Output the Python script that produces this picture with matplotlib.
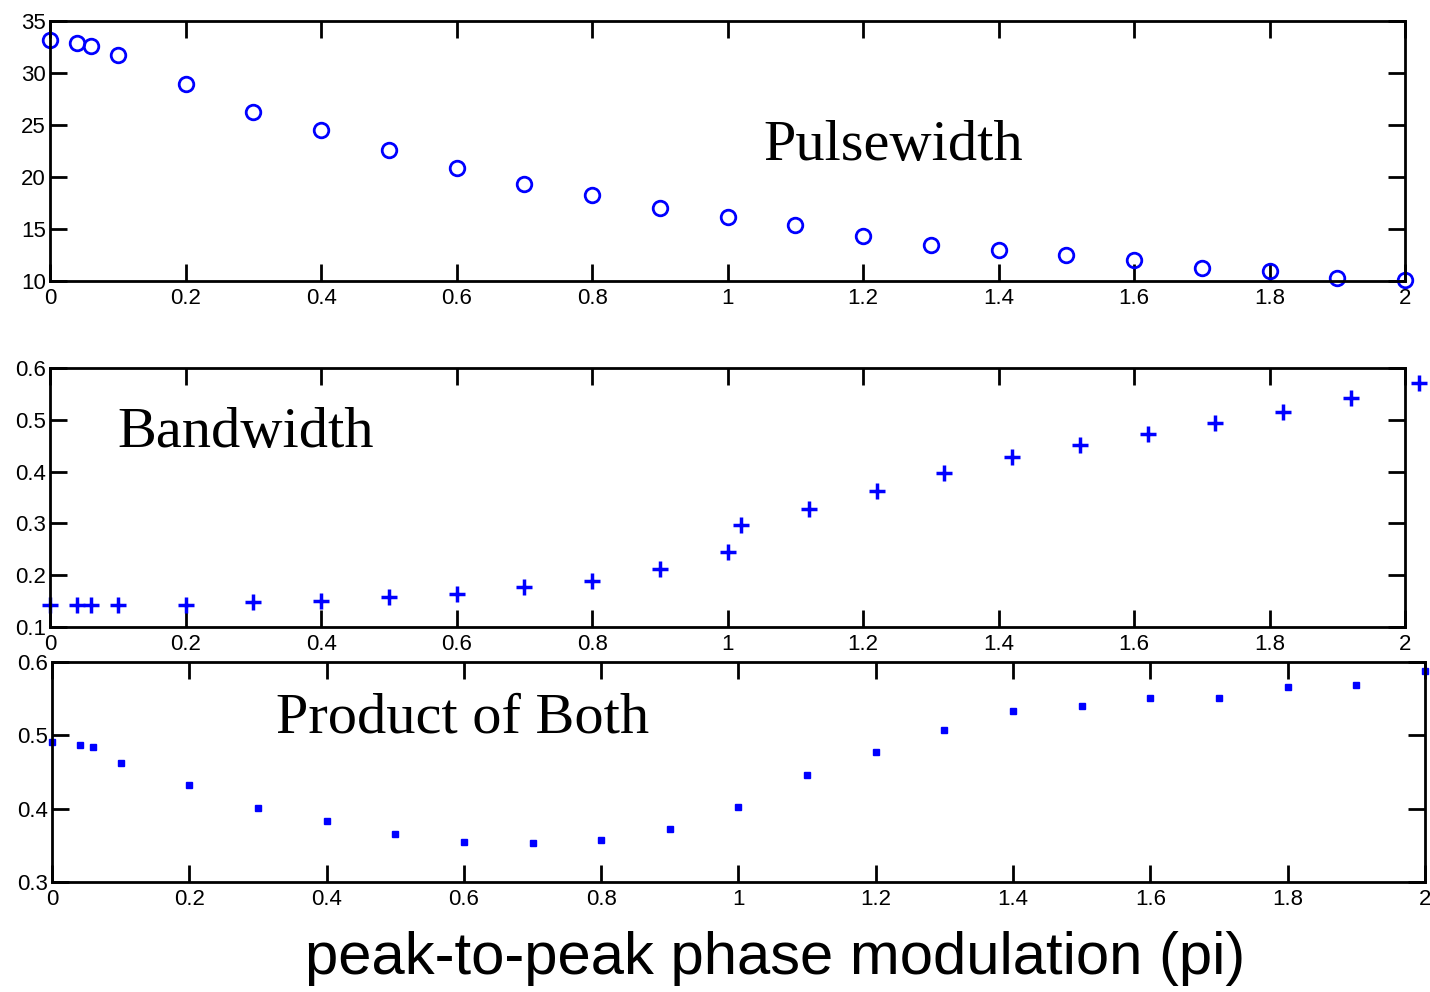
import matplotlib
matplotlib.use("Agg")
import matplotlib.pyplot as plt
from matplotlib.ticker import FixedLocator, FixedFormatter

# ---------------- data ----------------
x_pw = [0, 0.04, 0.06, 0.1, 0.2, 0.3, 0.4, 0.5, 0.6, 0.7, 0.8, 0.9, 1.0,
        1.1, 1.2, 1.3, 1.4, 1.5, 1.6, 1.7, 1.8, 1.9, 2.0]
pulsewidth = [33.2, 32.9, 32.6, 31.7, 29.0, 26.3, 24.5, 22.6, 20.9, 19.3,
              18.3, 17.0, 16.2, 15.4, 14.3, 13.5, 13.0, 12.5, 12.0, 11.3,
              11.0, 10.3, 10.1]

x_bw = [0, 0.04, 0.06, 0.1, 0.2, 0.3, 0.4, 0.5, 0.6, 0.7, 0.8, 0.9, 1.0,
        1.02, 1.12, 1.22, 1.32, 1.42, 1.52, 1.62, 1.72, 1.82, 1.92, 2.02]
bandwidth = [0.142, 0.142, 0.142, 0.142, 0.142, 0.148, 0.150, 0.158, 0.164,
             0.177, 0.189, 0.212, 0.245, 0.297, 0.328, 0.363, 0.397, 0.428,
             0.451, 0.473, 0.494, 0.515, 0.542, 0.571]

x_pr = [0, 0.04, 0.06, 0.1, 0.2, 0.3, 0.4, 0.5, 0.6, 0.7, 0.8, 0.9, 1.0,
        1.1, 1.2, 1.3, 1.4, 1.5, 1.6, 1.7, 1.8, 1.9, 2.0]
product = [0.491, 0.487, 0.484, 0.462, 0.432, 0.401, 0.383, 0.365, 0.355,
           0.353, 0.357, 0.372, 0.402, 0.446, 0.477, 0.507, 0.533, 0.540,
           0.551, 0.551, 0.566, 0.569, 0.588]

xticks = [0, 0.2, 0.4, 0.6, 0.8, 1.0, 1.2, 1.4, 1.6, 1.8, 2.0]
xticklabels = ["0", "0.2", "0.4", "0.6", "0.8", "1", "1.2", "1.4", "1.6", "1.8", "2"]
yticks_pw = [10, 15, 20, 25, 30, 35]
yticklabels_pw = ["10", "15", "20", "25", "30", "35"]
yticks_bw = [0.1, 0.2, 0.3, 0.4, 0.5, 0.6]
yticklabels_bw = ["0.1", "0.2", "0.3", "0.4", "0.5", "0.6"]
yticks_pr = [0.3, 0.4, 0.5, 0.6]
yticklabels_pr = ["0.3", "0.4", "0.5", "0.6"]

titles = ["Pulsewidth", "Bandwidth", "Product of Both"]
xlabel = "peak-to-peak phase modulation (pi)"

# ---------------- figure ----------------
fig = plt.figure(figsize=(14.3, 9.92), dpi=100)
fig.patch.set_facecolor("white")

blue = "#0000ff"


def style(ax, yt, ytl, ylim):
    ax.set_xlim(0, 2)
    ax.set_ylim(*ylim)
    ax.xaxis.set_major_locator(FixedLocator(xticks))
    ax.xaxis.set_major_formatter(FixedFormatter(xticklabels))
    ax.yaxis.set_major_locator(FixedLocator(yt))
    ax.yaxis.set_major_formatter(FixedFormatter(ytl))
    ax.tick_params(direction="in", length=12, width=2, top=True, right=True,
                   labelsize=16)
    ax.tick_params(axis="x", pad=5)
    ax.tick_params(axis="y", pad=3)
    for lab in ax.get_xticklabels() + ax.get_yticklabels():
        lab.set_family(["Liberation Sans", "DejaVu Sans"])
    for s in ax.spines.values():
        s.set_linewidth(2)


# Panel 1: Pulsewidth
ax1 = fig.add_axes([0.035, 0.7167, 0.9476, 0.262])
ax1.plot(x_pw, pulsewidth, linestyle="none", marker="o", markersize=10.5,
         markerfacecolor="none", markeredgecolor=blue, markeredgewidth=2,
         clip_on=False)
style(ax1, yticks_pw, yticklabels_pw, (10, 35))
ax1.text(0.5265, 0.465, titles[0], transform=ax1.transAxes,
         family=["Liberation Serif", "DejaVu Serif"], fontsize=42,
         ha="left", va="baseline")

# Panel 2: Bandwidth
ax2 = fig.add_axes([0.035, 0.3679, 0.9476, 0.261])
ax2.plot(x_bw, bandwidth, linestyle="none", marker="+", markersize=12,
         markeredgecolor=blue, markeredgewidth=2.5, clip_on=False)
style(ax2, yticks_bw, yticklabels_bw, (0.1, 0.6))
ax2.text(0.05, 0.697, titles[1], transform=ax2.transAxes,
         family=["Liberation Serif", "DejaVu Serif"], fontsize=42,
         ha="left", va="baseline")

# Panel 3: Product
ax3 = fig.add_axes([0.0364, 0.1109, 0.960, 0.2218])
ax3.plot(x_pr, product, linestyle="none", marker="s", markersize=4,
         markerfacecolor=blue, markeredgecolor=blue, clip_on=False)
style(ax3, yticks_pr, yticklabels_pr, (0.3, 0.6))
ax3.text(0.163, 0.68, titles[2], transform=ax3.transAxes,
         family=["Liberation Serif", "DejaVu Serif"], fontsize=42,
         ha="left", va="baseline")

fig.text(0.542, 0.018, xlabel, family=["Liberation Sans", "DejaVu Sans"],
         fontsize=43, ha="center", va="baseline")

fig.savefig("out.png", dpi=100, facecolor="white")
